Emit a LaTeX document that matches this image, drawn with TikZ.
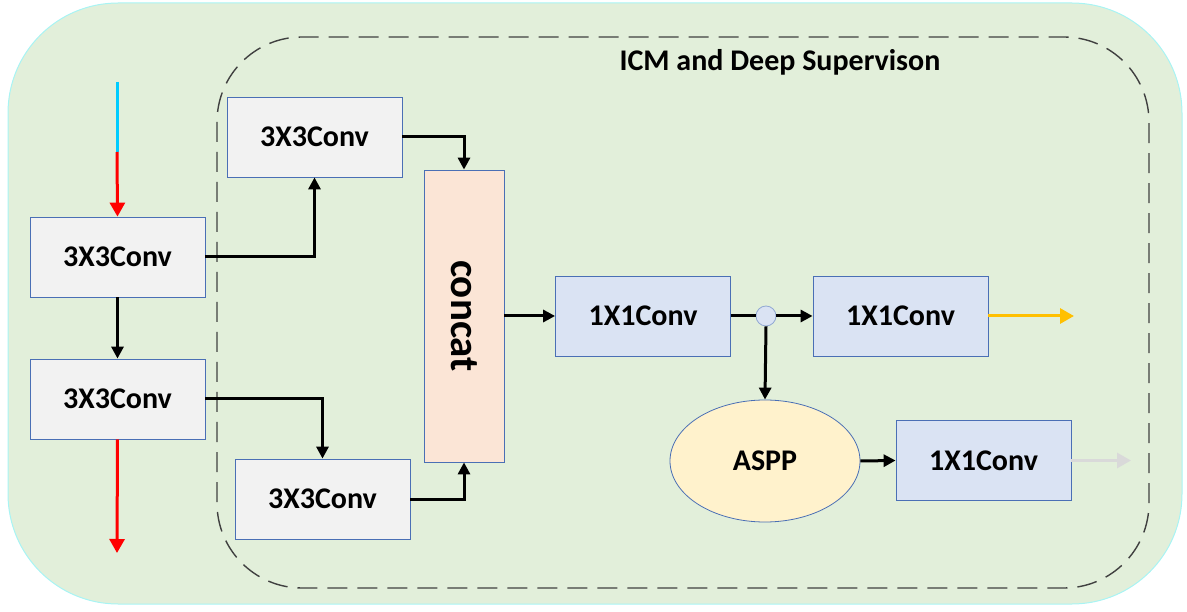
\documentclass[tikz,border=0pt]{standalone}
\usepackage{fontspec}
\setmainfont{Carlito}
\usetikzlibrary{arrows.meta,positioning,shapes.geometric}
\definecolor{bggreen}  {HTML}{E2EFDA}
\definecolor{bgedge}   {HTML}{A8F4F4}
\definecolor{boxgray}  {HTML}{F2F2F2}
\definecolor{boxblue}  {HTML}{DAE3F3}
\definecolor{boxpeach} {HTML}{FBE5D6}
\definecolor{boxyellow}{HTML}{FFF2CC}
\definecolor{edgeblue} {HTML}{4A6FB5}
\definecolor{dashgray} {HTML}{404040}
\definecolor{incyan}   {HTML}{00CCFF}
\definecolor{outgold}  {HTML}{FFC000}
\definecolor{outgray}  {HTML}{D9D9D9}

\tikzset{
  conv/.style={draw=edgeblue, line width=0.8pt, minimum width=175pt, minimum height=80pt,
               inner sep=0pt, font=\fontsize{30}{34}\selectfont\bfseries},
  convgray/.style={conv, fill=boxgray},
  convblue/.style={conv, fill=boxblue},
  flow/.style={line width=3pt, -{Triangle[length=12pt,width=12pt]}},
  colored/.style={line width=3pt, -{Triangle[length=14pt,width=15pt]}},
}

\begin{document}
\begin{tikzpicture}[x=1pt,y=-1pt]
  \useasboundingbox (0,0) rectangle (1187,612);
  % background panels
  \draw[bgedge, fill=bggreen, line width=1pt, rounded corners=110pt] (8,3) rectangle (1182,604);
  \draw[dashgray, line width=1.4pt, dash pattern=on 20pt off 10pt, rounded corners=85pt]
    (217,37) rectangle (1149,588);
  \node[font=\fontsize{30}{34}\selectfont\bfseries] (title) at (780,62) {ICM and Deep Supervison};

  % blocks
  \node[convgray] (convA) at (117.5,257) {3X3Conv};
  \node[convgray] (convB) at (117.5,399) {3X3Conv};
  \node[convgray] (convC) at (314.5,137) {3X3Conv};
  \node[convgray] (convD) at (322.5,499) {3X3Conv};
  \node[draw=edgeblue, line width=0.8pt, fill=boxpeach, minimum width=80pt, minimum height=292pt,
        inner sep=0pt] (concat) at (464,316) {};
  \node[rotate=-90, font=\fontsize{41}{44}\selectfont\bfseries] at (concat.center) {concat};
  \node[convblue] (convE) at (643,316) {1X1Conv};
  \node[draw=edgeblue!60, fill=boxblue, circle, minimum size=20pt, inner sep=0pt, line width=0.8pt]
    (junc) at (766,316) {};
  \node[convblue] (convF) at (900.5,316) {1X1Conv};
  \node[draw=edgeblue, fill=boxyellow, ellipse, minimum width=190pt, minimum height=122pt,
        line width=0.8pt, inner sep=0pt, font=\fontsize{30}{34}\selectfont\bfseries]
    (aspp) at (765,461) {ASPP};
  \node[convblue] (convG) at (983.5,460.5) {1X1Conv};

  % free ends
  \coordinate (inTop) at (117,82);
  \coordinate (inMid) at (117,152);
  \coordinate (outB)  at (117,553);
  \coordinate (outF)  at (1074,316);
  \coordinate (outG)  at (1131,460.5);

  % connectors
  \draw[incyan, line width=3pt] (inTop) -- (inMid);
  \draw[red, colored] (inMid) -- (convA.north);
  \draw[red, colored] (convB.south) -- (outB);
  \draw[flow] (convA.south) -- (convB.north);
  \draw[flow] (convA.east) -| (convC.south);
  \draw[flow] (convB.east) -| (convD.north);
  \draw[flow] (convC.east) -| (concat.north);
  \draw[flow] (convD.east) -| (concat.south);
  \draw[flow] (concat.east) -- (convE.west);
  \draw[line width=3pt] (convE.east) -- (junc.west);
  \draw[flow] (junc.east) -- (convF.west);
  \draw[flow] (junc.south) -- (aspp.north);
  \draw[flow] (aspp.east) -- (convG.west);
  \draw[outgold, colored] (convF.east) -- (outF);
  \draw[outgray, colored] (convG.east) -- (outG);
\end{tikzpicture}
\end{document}
